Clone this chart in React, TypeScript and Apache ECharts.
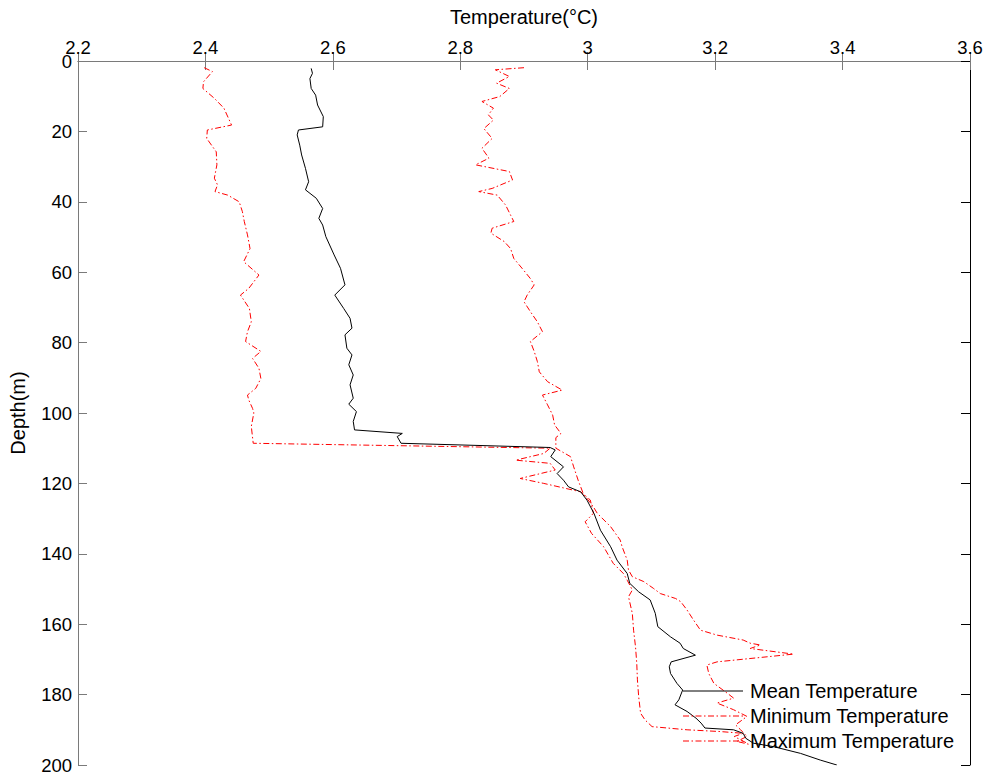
import React, { useEffect, useRef } from "react";
import * as echarts from "echarts";

const xTicks = { min: 2.2, max: 3.6, interval: 0.2 };
const yTicks = { min: 0, max: 200, interval: 20 };

const seriesNames = ["Mean Temperature", "Minimum Temperature", "Maximum Temperature"];

const meanDepth = [2.1, 3.5, 5.0, 7.8, 9.7, 12.5, 15.8, 18.7, 19.6, 21.0, 23.9, 26.7, 30.5, 34.3, 36.6, 39.0, 41.9, 44.7, 46.6, 49.9, 55.1, 58.9, 63.6, 66.5, 70.3, 73.1, 75.9, 77.8, 81.6, 83.5, 86.3, 89.2, 92.0, 95.8, 97.5, 99.6, 102.4, 104.8, 105.8, 106.7, 108.6, 109.8, 110.5, 112.4, 115.3, 117.2, 119.1, 121.0, 122.4, 124.8, 128.6, 133.3, 138.0, 141.8, 145.6, 148.4, 150.8, 153.1, 156.9, 160.7, 163.6, 165.4, 166.9, 168.8, 170.7, 172.1, 174.0, 176.8, 178.7, 181.5, 182.9, 184.8, 186.7, 188.1, 189.5, 190.0, 191.0, 192.4, 193.8, 194.8, 196.7, 198.6, 200.0];
const meanTemp = [2.566, 2.568, 2.564, 2.566, 2.573, 2.576, 2.585, 2.584, 2.546, 2.544, 2.548, 2.551, 2.557, 2.562, 2.557, 2.574, 2.584, 2.578, 2.584, 2.589, 2.602, 2.612, 2.619, 2.603, 2.617, 2.627, 2.630, 2.619, 2.622, 2.630, 2.625, 2.632, 2.627, 2.632, 2.625, 2.637, 2.632, 2.634, 2.709, 2.701, 2.707, 2.941, 2.949, 2.942, 2.962, 2.952, 2.962, 2.970, 2.989, 2.999, 3.010, 3.020, 3.036, 3.046, 3.062, 3.066, 3.080, 3.098, 3.106, 3.110, 3.130, 3.145, 3.150, 3.169, 3.131, 3.128, 3.130, 3.140, 3.149, 3.143, 3.137, 3.156, 3.170, 3.178, 3.184, 3.229, 3.244, 3.248, 3.260, 3.292, 3.334, 3.365, 3.391];

const minDepth = [1.9, 3.0, 5.9, 7.8, 10.6, 13.4, 18.2, 19.6, 22.0, 25.8, 29.5, 33.3, 35.2, 37.1, 38.1, 40.0, 42.8, 45.6, 49.4, 53.3, 57.0, 60.8, 64.6, 66.5, 70.3, 74.1, 76.9, 79.7, 82.5, 84.5, 87.3, 90.2, 93.0, 94.9, 96.3, 98.7, 100.0, 103.8, 108.6, 110.0, 111.5, 113.4, 114.3, 116.2, 118.6, 120.0, 122.4, 124.7, 128.5, 130.9, 134.2, 138.0, 142.7, 145.6, 147.5, 150.3, 152.2, 156.9, 161.7, 166.4, 171.1, 175.8, 180.6, 185.3, 187.2, 189.1, 190.0, 190.5, 191.0, 191.9, 193.8];
const minTemp = [2.398, 2.411, 2.397, 2.396, 2.414, 2.429, 2.441, 2.403, 2.402, 2.417, 2.418, 2.414, 2.419, 2.415, 2.435, 2.453, 2.458, 2.461, 2.466, 2.470, 2.460, 2.484, 2.468, 2.455, 2.469, 2.472, 2.466, 2.463, 2.487, 2.474, 2.484, 2.487, 2.479, 2.466, 2.468, 2.474, 2.476, 2.472, 2.475, 2.941, 2.931, 2.887, 2.941, 2.949, 2.894, 2.931, 2.989, 3.004, 3.009, 2.996, 3.006, 3.025, 3.040, 3.056, 3.062, 3.070, 3.064, 3.070, 3.072, 3.075, 3.077, 3.078, 3.080, 3.083, 3.090, 3.101, 3.156, 3.208, 3.244, 3.230, 3.250];

const maxDepth = [1.9, 2.5, 4.4, 6.3, 7.8, 10.1, 11.5, 13.4, 15.3, 16.8, 19.2, 22.0, 24.8, 27.6, 29.5, 31.4, 33.8, 36.2, 37.1, 38.1, 40.9, 43.8, 45.6, 47.5, 48.9, 51.3, 53.3, 56.1, 58.9, 61.8, 63.6, 66.5, 68.4, 71.2, 74.1, 76.9, 79.7, 82.5, 85.4, 88.3, 91.1, 93.5, 94.9, 97.7, 100.6, 103.4, 105.8, 107.0, 110.0, 112.4, 115.3, 119.1, 122.9, 126.7, 128.5, 132.3, 136.1, 138.0, 141.8, 144.6, 146.5, 147.9, 149.8, 151.3, 152.7, 153.6, 156.0, 158.8, 161.7, 163.1, 164.5, 165.4, 165.9, 166.9, 168.5, 170.7, 171.6, 174.0, 176.8, 179.6, 181.0, 182.4, 184.3, 186.2, 188.6, 190.0, 191.9, 193.3, 194.2];
const maxTemp = [2.900, 2.855, 2.877, 2.857, 2.877, 2.862, 2.834, 2.852, 2.844, 2.852, 2.837, 2.850, 2.834, 2.845, 2.824, 2.877, 2.882, 2.850, 2.829, 2.858, 2.871, 2.879, 2.884, 2.850, 2.848, 2.869, 2.879, 2.884, 2.897, 2.910, 2.916, 2.905, 2.900, 2.910, 2.921, 2.929, 2.910, 2.916, 2.921, 2.924, 2.937, 2.960, 2.929, 2.937, 2.945, 2.948, 2.958, 2.950, 2.950, 2.973, 2.978, 2.985, 2.993, 3.009, 3.015, 3.036, 3.051, 3.054, 3.062, 3.064, 3.070, 3.088, 3.103, 3.114, 3.138, 3.146, 3.156, 3.166, 3.177, 3.203, 3.244, 3.255, 3.271, 3.255, 3.323, 3.203, 3.187, 3.190, 3.198, 3.219, 3.229, 3.203, 3.229, 3.250, 3.232, 3.240, 3.250, 3.234, 3.255];

const FONT = "'Liberation Sans', Arial, Helvetica, sans-serif";
const AXIS_GRAY = "#7a7a7a";
const DASH_DOT = [6, 2.5, 1.5, 2.5];
const seriesColors = ["#000000", "#ff0000", "#ff0000"];
const seriesDash: (number[] | null)[] = [null, DASH_DOT, DASH_DOT];

const pairs = (t: number[], d: number[]) => t.map((v, i) => [v, d[i]]);

export default function App() {
  const ref = useRef<HTMLDivElement>(null);
  useEffect(() => {
    document.body.style.margin = "0";
    if (!ref.current) return;
    const chart = echarts.init(ref.current, undefined, { renderer: "svg" });
    const tickCommon = { show: true, inside: true, length: 9, lineStyle: { color: AXIS_GRAY, width: 1 } };

    const legendX = 683;
    const legendY0 = 691;
    const legendStep = 25;
    const legendGraphics: any[] = [];
    seriesNames.forEach((name, i) => {
      const y = legendY0 + i * legendStep;
      legendGraphics.push({
        type: "line",
        z: 100,
        shape: { x1: legendX, y1: y, x2: legendX + 60, y2: y },
        style: {
          stroke: seriesColors[i],
          lineWidth: 1,
          lineDash: seriesDash[i] || undefined,
        },
      });
      legendGraphics.push({
        type: "text",
        z: 100,
        x: legendX + 67,
        y,
        style: {
          text: name,
          fontSize: 20,
          fontFamily: FONT,
          fill: "#000",
          align: "left",
          verticalAlign: "middle",
        },
      });
    });

    chart.setOption({
      animation: false,
      backgroundColor: "#fff",
      textStyle: { fontFamily: FONT },
      grid: { left: 77, right: 18, top: 61, bottom: 13, containLabel: false },
      graphic: legendGraphics,
      xAxis: [
        {
          type: "value",
          position: "top",
          min: xTicks.min,
          max: xTicks.max,
          interval: xTicks.interval,
          name: "Temperature(°C)",
          nameLocation: "middle",
          nameGap: 34,
          nameTextStyle: { fontSize: 20, color: "#000", fontFamily: FONT },
          axisLine: { show: true, lineStyle: { color: AXIS_GRAY, width: 1 } },
          axisTick: tickCommon,
          axisLabel: { fontSize: 18.5, color: "#000", margin: 4, fontFamily: FONT },
          splitLine: { show: false },
        },
        {
          type: "value",
          position: "bottom",
          min: xTicks.min,
          max: xTicks.max,
          interval: xTicks.interval,
          axisLine: { show: true, lineStyle: { color: AXIS_GRAY, width: 1 } },
          axisTick: tickCommon,
          axisLabel: { show: false },
          splitLine: { show: false },
        },
      ],
      yAxis: [
        {
          type: "value",
          inverse: true,
          position: "left",
          min: yTicks.min,
          max: yTicks.max,
          interval: yTicks.interval,
          name: "Depth(m)",
          nameLocation: "middle",
          nameGap: 50,
          nameRotate: 90,
          nameTextStyle: { fontSize: 20, color: "#000", fontFamily: FONT },
          axisLine: { show: true, lineStyle: { color: AXIS_GRAY, width: 1 } },
          axisTick: tickCommon,
          axisLabel: { fontSize: 18.5, color: "#000", margin: 6, fontFamily: FONT },
          splitLine: { show: false },
        },
        {
          type: "value",
          inverse: true,
          position: "right",
          min: yTicks.min,
          max: yTicks.max,
          interval: yTicks.interval,
          axisLine: { show: true, lineStyle: { color: "#000", width: 1 } },
          axisTick: { ...tickCommon, lineStyle: { color: "#000", width: 1 } },
          axisLabel: { show: false },
          splitLine: { show: false },
        },
      ],
      series: [
        {
          name: seriesNames[0],
          type: "line",
          xAxisIndex: 0,
          yAxisIndex: 0,
          symbol: "none",
          showSymbol: false,
          data: pairs(meanTemp, meanDepth),
          lineStyle: { color: seriesColors[0], width: 1, type: "solid" },
          itemStyle: { color: seriesColors[0] },
          z: 3,
        },
        {
          name: seriesNames[1],
          type: "line",
          xAxisIndex: 0,
          yAxisIndex: 0,
          symbol: "none",
          showSymbol: false,
          data: pairs(minTemp, minDepth),
          lineStyle: { color: seriesColors[1], width: 1, type: DASH_DOT },
          itemStyle: { color: seriesColors[1] },
          z: 2,
        },
        {
          name: seriesNames[2],
          type: "line",
          xAxisIndex: 0,
          yAxisIndex: 0,
          symbol: "none",
          showSymbol: false,
          data: pairs(maxTemp, maxDepth),
          lineStyle: { color: seriesColors[2], width: 1, type: DASH_DOT },
          itemStyle: { color: seriesColors[2] },
          z: 2,
        },
      ],
    });
    return () => chart.dispose();
  }, []);
  return <div ref={ref} style={{ width: 988, height: 778 }} />;
}
